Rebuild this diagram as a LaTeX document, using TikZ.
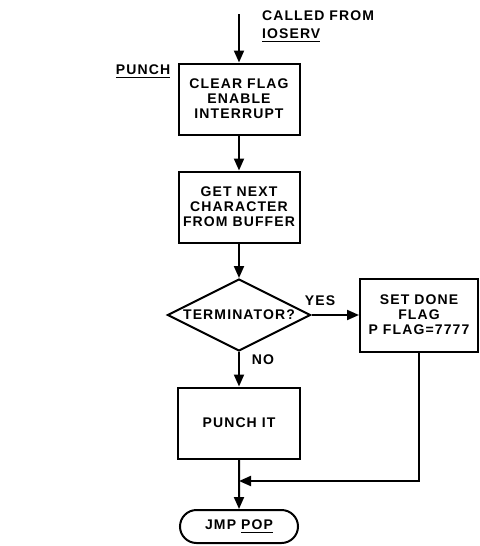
\documentclass[tikz,border=0pt]{standalone}
\usepackage{fontspec}
\setmainfont[LetterSpace=8]{Liberation Sans}
\usetikzlibrary{shapes.geometric,shapes.misc,arrows.meta,positioning}

\begin{document}
\begin{tikzpicture}[x=0.5pt,y=-0.5pt,
    font=\bfseries\fontsize{7}{7.5}\selectfont,
    box/.style={draw,line width=1pt,minimum width=60.5pt,minimum height=35.5pt,align=center,inner sep=1pt},
    decision/.style={draw,diamond,line width=1pt,minimum width=71.5pt,minimum height=36pt,inner sep=0pt},
    terminal/.style={draw,rounded rectangle,line width=1pt,minimum width=61pt,minimum height=16.5pt,inner sep=1pt},
    flow/.style={line width=1pt,-{Triangle[length=6pt,width=5pt]}}]
    \useasboundingbox (0,0) rectangle (480,546);
    % Entrata
    \coordinate (start) at (239,14);
    \node[anchor=west] (called) at (255,16) {CALLED FROM};
    \node[anchor=west] (ioserv) at (255,36) {\underline{IOSERV}};
    \node (title) at (143,72) {\underline{PUNCH}};

    % Blocchi
    \node[box] (clear) at (239,99) {CLEAR FLAG\\ENABLE\\INTERRUPT};
    \node[box] (getchar) at (239,207) {GET NEXT\\CHARACTER\\FROM BUFFER};
    \node[decision] (test) at (239,315) {};
    \node (testtext) at (test) {TERMINATOR?};
    \node[box,minimum width=59pt,minimum height=36.5pt] (done) at (419,315) {SET DONE\\FLAG\\P FLAG=7777};
    \node[box,minimum width=61pt] (punchit) at (239,423) {PUNCH IT};
    \node[terminal] (exit) at (239,526.5) {JMP \underline{POP}};

    % Frecce
    \draw[flow] (start) -- (clear);
    \draw[flow] (clear) -- (getchar);
    \draw[flow] (getchar) -- (test);
    \draw[flow] (test.east) -- (done.west);
    \node (yes) at (320,301) {YES};
    \draw[flow] (test) -- (punchit);
    \node (no) at (263,360) {NO};
    \coordinate (merge) at (239,481);
    \draw[flow] (done.south) |- (merge);
    \draw[flow] (punchit) -- (exit);
\end{tikzpicture}
\end{document}
